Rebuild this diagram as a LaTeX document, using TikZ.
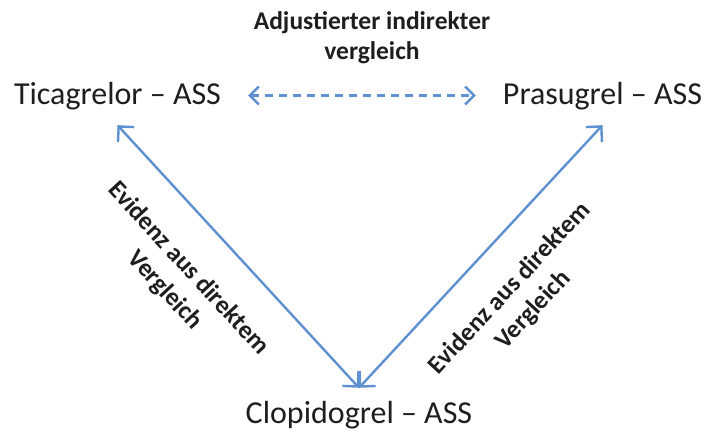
\documentclass[tikz,border=0pt]{standalone}
\usepackage{fontspec}
\setmainfont{Carlito}
\usetikzlibrary{arrows.meta}
\definecolor{arrowblue}{RGB}{95,145,210}
\definecolor{txt}{RGB}{30,30,30}
\begin{document}
\begin{tikzpicture}[x=1pt,y=-1pt,
  drug/.style={font=\fontsize{32}{38}\selectfont, text=txt, text height=24pt, text depth=8pt, inner xsep=27pt, inner ysep=12pt},
  lbl/.style={font=\bfseries\fontsize{25.5}{32}\selectfont, text=txt, align=center, inner sep=0pt},
  toplbl/.style={font=\bfseries\fontsize{25.5}{30}\selectfont, text=txt, align=center, inner sep=0pt},
  solidarrow/.style={draw=arrowblue, line width=2.4pt, {Straight Barb[length=11pt,width=22pt]}-{Straight Barb[length=11pt,width=22pt]}},
  dasharrow/.style={draw=arrowblue, line width=2.4pt, dash pattern=on 8pt off 6pt, {Straight Barb[length=9pt,width=18pt]}-{Straight Barb[length=9pt,width=18pt]}}
]
\useasboundingbox (0,0) rectangle (705,435);
\node[drug] (tic) at (117.5,97) {Ticagrelor – ASS};
\node[drug] (pra) at (602.5,97) {Prasugrel – ASS};
\node[drug] (clo) at (359,416) {Clopidogrel – ASS};
\node[toplbl] (adj) at (372,38) {Adjustierter indirekter\\vergleich};
\draw[dasharrow] ([yshift=1.5pt]tic.east) -- ([yshift=1.5pt]pra.west);
\draw[solidarrow] (tic.south) -- node[lbl, sloped, pos=0.43, anchor=north, outer ysep=34pt] (labL) {Evidenz aus direktem\\Vergleich} (clo.north);
\draw[solidarrow] (clo.north) -- node[lbl, sloped, pos=0.49, anchor=north, outer ysep=32pt] (labR) {Evidenz aus direktem\\Vergleich} (pra.south);
\end{tikzpicture}
\end{document}
